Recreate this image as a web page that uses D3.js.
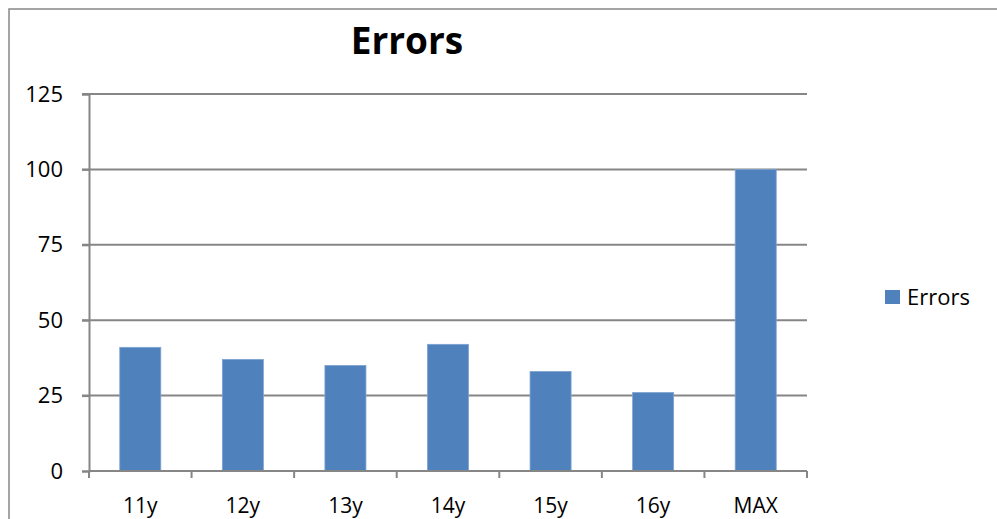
<!DOCTYPE html>
<meta charset="utf-8">
<script src="https://d3js.org/d3.v7.min.js"></script>
<style>
body { margin: 0; background: #fff; }
text { font-family: "Open Sans", "Noto Sans", sans-serif; fill: #000; }
</style>
<body>
<script>

// chart data
var categories = ["11y", "12y", "13y", "14y", "15y", "16y", "MAX"];
var errors = [41, 37, 35, 42, 33, 26, 100];
var yTicks = [0, 25, 50, 75, 100, 125];
var seriesName = "Errors";

var W = 997, H = 519;
var margin = {top: 94, left: 89, right: 190, bottom: 48};
var width = 807 - margin.left;
var height = 471 - margin.top;

var svg = d3.select("body").append("svg")
  .attr("width", W)
  .attr("height", H);

// outer frame (runs off the right and bottom edges)
svg.append("path")
  .attr("d", "M9," + (H + 2) + "V9H" + (W + 2))
  .attr("fill", "none")
  .attr("stroke", "#888")
  .attr("stroke-width", 1.5);

var g = svg.append("g")
  .attr("transform", "translate(" + margin.left + "," + margin.top + ")");

var xScale = d3.scaleBand()
  .domain(categories)
  .range([0, width])
  .paddingInner(0.6)
  .paddingOuter(0.3);

var yScale = d3.scaleLinear()
  .domain([0, 125])
  .range([height, 0]);

// gridlines
g.selectAll(".grid")
  .data(yTicks.filter(function(d) { return d > 0; }))
  .enter().append("line")
  .attr("class", "grid")
  .attr("x1", -7)
  .attr("x2", width)
  .attr("y1", function(d) { return yScale(d); })
  .attr("y2", function(d) { return yScale(d); })
  .attr("stroke", "#868686")
  .attr("stroke-width", 2);

// y axis
var yAxis = d3.axisLeft(yScale)
  .tickValues(yTicks)
  .tickSize(7)
  .tickPadding(19);

var yAxisGroup = g.append("g").call(yAxis);
yAxisGroup.select(".domain").attr("stroke", "#868686").attr("stroke-width", 2);
yAxisGroup.selectAll("line").attr("stroke", "#868686").attr("stroke-width", 2);
yAxisGroup.selectAll("text").style("font-size", "22px").attr("fill", "#000");

// bars
g.selectAll(".bar")
  .data(errors)
  .enter().append("rect")
  .attr("class", "bar")
  .attr("x", function(d, i) { return xScale(categories[i]); })
  .attr("y", function(d) { return yScale(d); })
  .attr("width", xScale.bandwidth())
  .attr("height", function(d) { return height - yScale(d); })
  .attr("fill", "#4F81BD")
  .attr("stroke", "#7ea3d2")
  .attr("stroke-width", 0.8);

// x axis with ticks at band boundaries
var bounds = d3.range(categories.length + 1).map(function(i) { return i * width / categories.length; });

var xg = g.append("g").attr("transform", "translate(0," + height + ")");
xg.append("line")
  .attr("x1", 0).attr("x2", width)
  .attr("stroke", "#868686").attr("stroke-width", 2);
xg.selectAll(".xtick")
  .data(bounds)
  .enter().append("line")
  .attr("class", "xtick")
  .attr("x1", function(d) { return d; })
  .attr("x2", function(d) { return d; })
  .attr("y1", 0).attr("y2", 7)
  .attr("stroke", "#868686").attr("stroke-width", 2);
xg.selectAll(".xlabel")
  .data(categories)
  .enter().append("text")
  .attr("class", "xlabel")
  .attr("x", function(d) { return xScale(d) + xScale.bandwidth() / 2; })
  .attr("y", 42)
  .attr("text-anchor", "middle")
  .style("font-size", "21px")
  .text(function(d) { return d; });

// title
svg.append("text")
  .attr("x", 407)
  .attr("y", 54)
  .attr("text-anchor", "middle")
  .style("font-size", "37px")
  .style("font-weight", "bold")
  .text(seriesName);

// legend
svg.append("rect")
  .attr("x", 885).attr("y", 290)
  .attr("width", 15).attr("height", 14)
  .attr("fill", "#4F81BD");
svg.append("text")
  .attr("x", 907).attr("y", 305)
  .style("font-size", "22px")
  .text(seriesName);

</script>
</body>
